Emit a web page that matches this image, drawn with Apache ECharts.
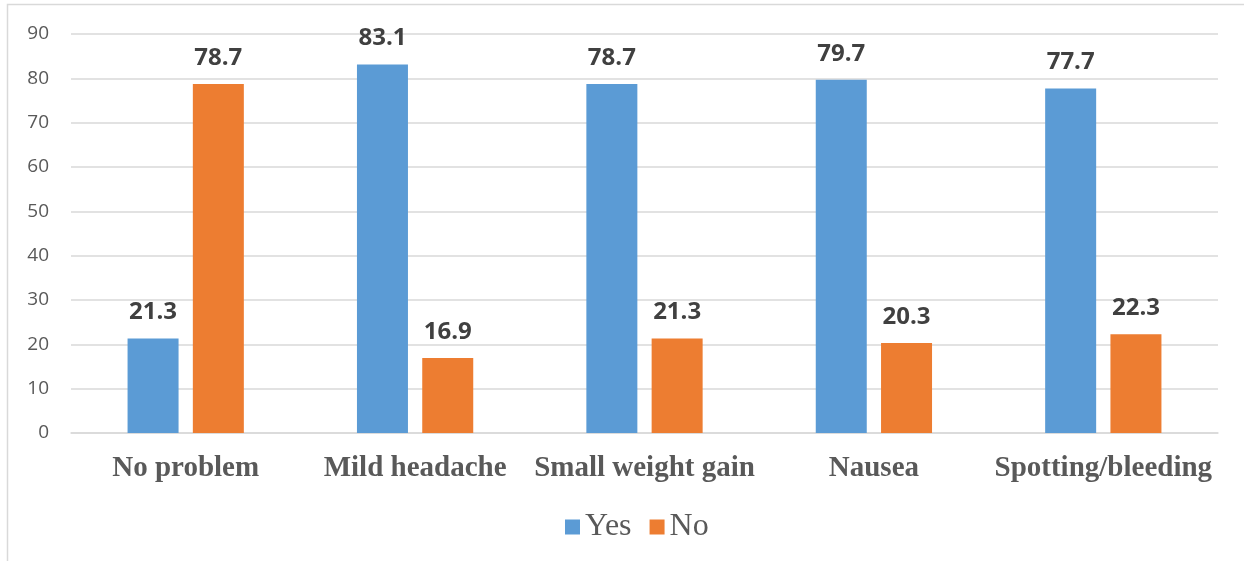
<!DOCTYPE html>
<html>
<head>
<meta charset="utf-8">
<script src="https://cdn.jsdelivr.net/npm/echarts@6/dist/echarts.min.js"></script>
<style>
  html, body { margin: 0; padding: 0; background: #fff; }
  #chart { width: 1244px; height: 561px; }
</style>
</head>
<body>
<div id="chart"></div>
<script>
const categories = ['No problem', 'Mild headache', 'Small weight gain', 'Nausea', 'Spotting/bleeding'];
const yesValues = [21.3, 83.1, 78.7, 79.7, 77.7];
const noValues = [78.7, 16.9, 21.3, 20.3, 22.3];
const seriesNames = ['Yes', 'No'];

const chart = echarts.init(document.getElementById('chart'), null, { renderer: 'canvas' });

const valueLabel = {
  show: true,
  position: 'top',
  distance: 14,
  fontFamily: 'Open Sans, sans-serif',
  fontWeight: 'bold',
  fontSize: 24,
  color: '#404040',
  formatter: p => p.value.toFixed(1)
};

chart.setOption({
  animation: false,
  backgroundColor: '#ffffff',
  graphic: [{
    type: 'rect',
    shape: { x: 7.5, y: 4.5, width: 1300, height: 700 },
    style: { fill: 'none', stroke: '#d9d9d9', lineWidth: 1.5 },
    silent: true,
    z: -10
  }],
  grid: { left: 71, right: 26, top: 34, bottom: 128 },
  legend: {
    top: 506,
    left: 560,
    itemWidth: 15,
    itemHeight: 15,
    itemGap: 18,
    icon: 'rect',
    textStyle: { fontFamily: 'Liberation Serif, serif', fontSize: 32, color: '#595959' },
    data: seriesNames
  },
  xAxis: {
    type: 'category',
    data: categories,
    axisLine: { show: true, lineStyle: { color: '#d9d9d9', width: 1.5 } },
    axisTick: { show: false },
    axisLabel: {
      interval: 0,
      margin: 21,
      fontFamily: 'Liberation Serif, serif',
      fontWeight: 'bold',
      fontSize: 29,
      color: '#595959'
    }
  },
  yAxis: {
    type: 'value',
    min: 0,
    max: 90,
    interval: 10,
    axisLine: { show: false },
    axisTick: { show: false },
    splitLine: { lineStyle: { color: '#d9d9d9', width: 1.5 } },
    axisLabel: {
      margin: 22,
      fontFamily: 'Open Sans, sans-serif',
      fontSize: 19,
      color: '#595959'
    }
  },
  series: [
    {
      name: seriesNames[0],
      type: 'bar',
      data: yesValues,
      barWidth: 51,
      barGap: '28%',
      itemStyle: { color: '#5b9bd5' },
      label: valueLabel
    },
    {
      name: seriesNames[1],
      type: 'bar',
      data: noValues,
      barWidth: 51,
      barGap: '28%',
      itemStyle: { color: '#ed7d31' },
      label: valueLabel
    }
  ]
});
</script>
</body>
</html>
